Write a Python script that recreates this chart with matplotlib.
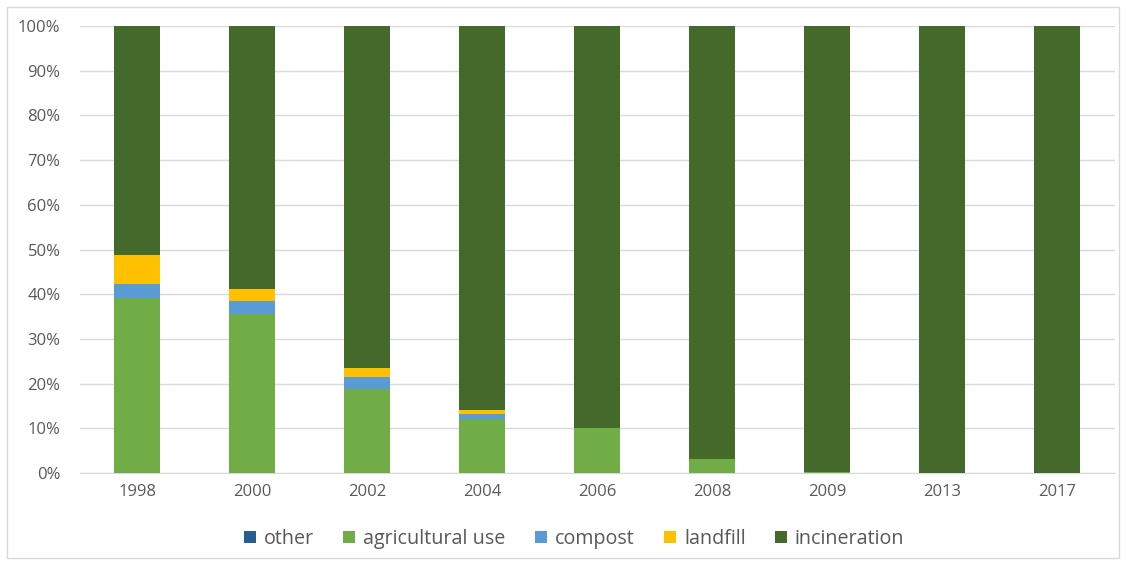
import matplotlib.pyplot as plt
from matplotlib.patches import Rectangle
from matplotlib.ticker import FuncFormatter

years = ['1998', '2000', '2002', '2004', '2006', '2008', '2009', '2013', '2017']
other = [0, 0, 0, 0, 0, 0, 0, 0, 0]
agricultural = [39.1, 35.6, 18.9, 12.2, 10.0, 3.1, 0.3, 0, 0]
compost = [3.1, 2.9, 2.6, 1.1, 0, 0, 0, 0, 0]
landfill = [6.6, 2.6, 2.0, 0.9, 0, 0, 0, 0, 0]
incineration = [100 - a - c - l for a, c, l in zip(agricultural, compost, landfill)]

series = [('other', other, '#255e91'),
          ('agricultural use', agricultural, '#70ad47'),
          ('compost', compost, '#5b9bd5'),
          ('landfill', landfill, '#ffc000'),
          ('incineration', incineration, '#436a2b')]

plt.rcParams['font.family'] = ['Open Sans', 'DejaVu Sans']

fig = plt.figure(figsize=(11.26, 5.62), dpi=100)
ax = fig.add_axes([0.071, 0.158, 0.919, 0.796])

x = range(len(years))
bottom = [0] * len(years)
for name, vals, col in series:
    ax.bar(x, vals, 0.4, bottom=bottom, color=col, label=name, zorder=3)
    bottom = [b + v for b, v in zip(bottom, vals)]

ax.set_xlim(-0.5, len(years) - 0.5)
ax.set_ylim(0, 100)
ax.set_yticks(range(0, 101, 10))
ax.yaxis.set_major_formatter(FuncFormatter(lambda v, p: '%d%%' % v))
ax.set_xticks(list(x))
ax.set_xticklabels(years)
ax.grid(axis='y', color='#d9d9d9', lw=1, zorder=0)
for s in ['top', 'right', 'left']:
    ax.spines[s].set_visible(False)
ax.spines['bottom'].set_color('#d9d9d9')
ax.tick_params(length=0, colors='#595959', labelsize=12, pad=8)
ax.tick_params(axis='y', pad=14)

fig.legend(loc='center', bbox_to_anchor=(0.51, 0.041), ncol=5, frameon=False,
           fontsize=14.2, handlelength=0.6, handleheight=0.6, handletextpad=0.4,
           columnspacing=1.5, labelcolor='#595959')

# chart area border
fig.patches.append(Rectangle((0.006, 0.008), 0.988, 0.98, transform=fig.transFigure,
                             fill=False, edgecolor='#d9d9d9', lw=1))

plt.savefig('out.png')
